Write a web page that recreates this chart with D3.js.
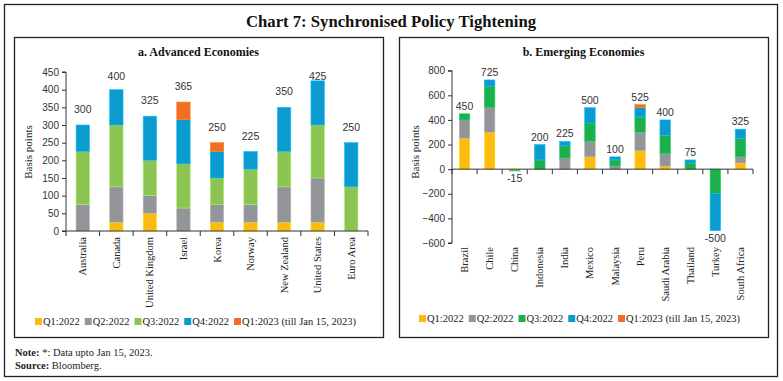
<!DOCTYPE html>
<html><head><meta charset="utf-8">
<script src="https://cdn.jsdelivr.net/npm/d3@7"></script>
<style>
html,body{margin:0;padding:0;background:#fff;}
svg{display:block;}
</style></head>
<body>
<svg id="c" width="783" height="381"></svg>
<script>
// ---------- DATA ----------
const seriesNames = ["Q1:2022","Q2:2022","Q3:2022","Q4:2022","Q1:2023 (till Jan 15, 2023)"];

const advCategories = ["Australia","Canada","United Kingdom","Israel","Korea","Norway","New Zealand","United States","Euro Area"];
const advQ1_2022 = [0,25,50,0,25,25,25,25,0];
const advQ2_2022 = [75,100,50,65,50,50,100,125,0];
const advQ3_2022 = [150,175,100,125,75,100,100,150,125];
const advQ4_2022 = [75,100,125,125,75,50,125,125,125];
const advQ1_2023 = [0,0,0,50,25,0,0,0,0];
const advTicks = [0,50,100,150,200,250,300,350,400,450];

const emeCategories = ["Brazil","Chile","China","Indonesia","India","Mexico","Malaysia","Peru","Saudi Arabia","Thailand","Turkey","South Africa"];
const emeQ1_2022 = [250,300,-10,0,0,100,0,150,25,0,0,50];
const emeQ2_2022 = [150,200,0,0,90,125,25,150,100,0,0,50];
const emeQ3_2022 = [50,175,-5,75,100,150,50,125,150,50,-200,150];
const emeQ4_2022 = [0,50,0,125,35,125,25,75,125,25,-300,75];
const emeQ1_2023 = [0,0,0,0,0,0,0,25,0,0,0,0];
const emeTicks = [-600,-400,-200,0,200,400,600,800];

const advColors = ["#FDBB12","#939598","#8BC453","#0B9BCF","#F26F21"];
const emeColors = ["#FDBB12","#939598","#1DAF4E","#0B9BCF","#F26F21"];

// ---------- DRAW ----------
const svg = d3.select("#c");
const serif = "'Liberation Serif','DejaVu Serif',serif";
const sans = "'Liberation Sans','Open Sans',sans-serif";

svg.append("rect").attr("x",4.5).attr("y",4.5).attr("width",773).attr("height",372)
  .attr("fill","none").attr("stroke","#222").attr("stroke-width",1.3);

svg.append("text").attr("x",391).attr("y",27).attr("text-anchor","middle")
  .attr("font-family",serif).attr("font-weight","bold").attr("font-size",16.5)
  .attr("textLength",290).attr("lengthAdjust","spacingAndGlyphs")
  .attr("fill","#111").text("Chart 7: Synchronised Policy Tightening");

function panel(opt){
  const g = svg.append("g");
  g.append("rect").attr("x",opt.box[0]+0.5).attr("y",opt.box[1]+0.5)
    .attr("width",opt.box[2]-opt.box[0]).attr("height",opt.box[3]-opt.box[1])
    .attr("fill","none").attr("stroke","#222").attr("stroke-width",1.3);
  g.append("text").attr("x",(opt.box[0]+opt.box[2])/2).attr("y",opt.box[1]+19)
    .attr("text-anchor","middle").attr("font-family",serif).attr("font-weight","bold")
    .attr("font-size",12).attr("fill","#111").text(opt.title);

  const n = opt.categories.length;
  const x = d3.scaleBand().domain(opt.categories).range(opt.xr)
    .paddingInner(opt.pad).paddingOuter(opt.pad/2);
  const y = d3.scaleLinear().domain(opt.ydom).range(opt.yr);

  const rows = opt.categories.map((c,i)=>{
    const r = {cat:c};
    opt.series.forEach((s,j)=>{ r["s"+j]=s[i]; });
    return r;
  });
  const keys = opt.series.map((s,j)=>"s"+j);
  const stacked = d3.stack().keys(keys).offset(d3.stackOffsetDiverging)(rows);

  stacked.forEach((layer,j)=>{
    g.append("g").selectAll("rect").data(layer).join("rect")
      .attr("x",d=>x(d.data.cat))
      .attr("width",x.bandwidth())
      .attr("y",d=>y(Math.max(d[0],d[1])))
      .attr("height",d=>Math.abs(y(d[0])-y(d[1])))
      .attr("fill",opt.colors[j])
      .attr("stroke",d3.color(opt.colors[j]).brighter(0.6))
      .attr("stroke-width",0.6);
  });

  // y axis
  const ya = d3.axisLeft(y).tickValues(opt.ticks).tickSize(4).tickSizeOuter(4).tickPadding(3);
  const yg = g.append("g").attr("transform",`translate(${opt.xr[0]},0)`).call(ya);
  yg.selectAll("path,line").attr("stroke","#333");
  yg.selectAll("text").attr("font-family",sans).attr("font-size",10).attr("fill","#333");
  yg.select(".domain").attr("d",`M-4,${opt.yr[0]}H0V${opt.yr[1]}H-4`);

  // x axis line at zero, with ticks at band boundaries
  const y0 = y(0);
  const step = x.step();
  g.append("line").attr("x1",opt.xr[0]).attr("x2",opt.xr[1]).attr("y1",y0).attr("y2",y0)
    .attr("stroke","#333").attr("stroke-width",1);
  g.append("g").selectAll("line").data(d3.range(n+1)).join("line")
    .attr("x1",i=>opt.xr[0]+i*step).attr("x2",i=>opt.xr[0]+i*step)
    .attr("y1",y0).attr("y2",y0+5).attr("stroke","#333");

  // category labels
  g.append("g").selectAll("text").data(opt.categories).join("text")
    .attr("transform",c=>`translate(${x(c)+x.bandwidth()/2+3.5},${opt.labTop}) rotate(-90)`)
    .attr("text-anchor","end").attr("font-family",serif).attr("font-size",10.5)
    .attr("fill","#222").text(c=>c);

  // totals
  const totals = rows.map(r=>keys.reduce((a,k)=>a+r[k],0));
  g.append("g").selectAll("text").data(rows).join("text")
    .attr("x",(r)=>x(r.cat)+x.bandwidth()/2)
    .attr("y",(r,i)=>{
      const t = totals[i];
      if(t>=0){
        const top = y(d3.sum(keys,k=>Math.max(0,r[k])));
        return Math.max(top-opt.lblGap, opt.lblMin);
      } else {
        const bot = y(d3.sum(keys,k=>Math.min(0,r[k])));
        return bot+11;
      }
    })
    .attr("text-anchor","middle").attr("font-family",sans).attr("font-size",10.5)
    .attr("fill","#333").text((r,i)=>totals[i]);

  // y title
  g.append("text").attr("transform",`translate(${opt.yTitleX},${opt.yTitleY}) rotate(-90)`)
    .attr("text-anchor","middle").attr("font-family",serif).attr("font-size",11)
    .attr("fill","#222").text("Basis points");

  // legend
  const lg = g.append("g").attr("transform",`translate(${opt.legX},${opt.legY})`);
  let cx = 0;
  seriesNames.forEach((s,j)=>{
    lg.append("rect").attr("x",cx).attr("y",-7).attr("width",7).attr("height",7).attr("fill",opt.colors[j]);
    const t = lg.append("text").attr("x",cx+8).attr("y",0).attr("font-family",serif)
      .attr("font-size",10.5).attr("fill","#222").text(s);
    cx += 8 + t.node().getComputedTextLength() + opt.legGap;
  });
}

panel({
  box:[14,37,383,337], title:"a. Advanced Economies",
  categories:advCategories, series:[advQ1_2022,advQ2_2022,advQ3_2022,advQ4_2022,advQ1_2023],
  colors:advColors, xr:[66,368], pad:0.6, ydom:[0,450], yr:[231,72], ticks:advTicks,
  labTop:237, lblGap:12, lblMin:80, yTitleX:32, yTitleY:152, legX:35, legY:325, legGap:5
});

panel({
  box:[399,37,768,337], title:"b. Emerging Economies",
  categories:emeCategories, series:[emeQ1_2022,emeQ2_2022,emeQ3_2022,emeQ4_2022,emeQ1_2023],
  colors:emeColors, xr:[452,753], pad:0.58, ydom:[-600,800], yr:[243,70.7], ticks:emeTicks,
  labTop:247, lblGap:4, lblMin:0, yTitleX:419, yTitleY:152, legX:419, legY:322, legGap:5
});

// notes
const nt = svg.append("text").attr("x",15).attr("y",356).attr("font-family",serif).attr("font-size",10.5).attr("fill","#222");
nt.append("tspan").attr("font-weight","bold").text("Note: ");
nt.append("tspan").text("*: Data upto Jan 15, 2023.");
const st = svg.append("text").attr("x",15).attr("y",369).attr("font-family",serif).attr("font-size",10.5).attr("fill","#222");
st.append("tspan").attr("font-weight","bold").text("Source: ");
st.append("tspan").text("Bloomberg.");
</script>
</body></html>
